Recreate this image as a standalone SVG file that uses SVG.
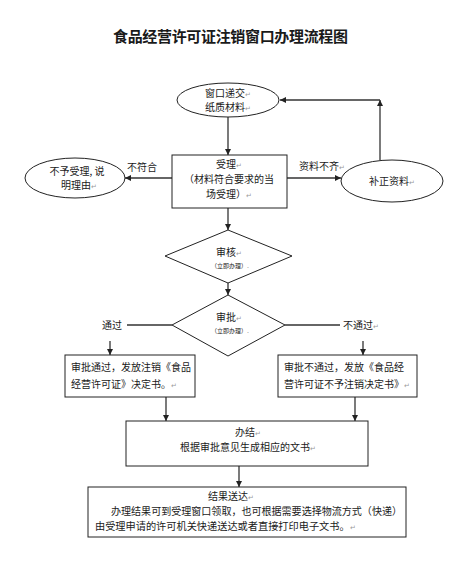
<svg xmlns="http://www.w3.org/2000/svg" width="474" height="571" viewBox="0 0 474 571">
<style>
text{font-family:"Noto Sans CJK SC","Noto Sans",sans-serif;fill:#1a1a1a;font-size:10px}
.t{font-size:15px;font-weight:bold}
.s{font-size:6px}
.m{fill:#9a9a9a;font-size:7px}
.shape{fill:#fff;stroke:#222;stroke-width:1}
.c{fill:none;stroke:#333;stroke-width:1.3}
.a{marker-end:url(#arr)}
.lt{font-size:10.2px}
</style>
<defs>
<marker id="arr" markerUnits="userSpaceOnUse" markerWidth="7" markerHeight="7" refX="6" refY="3" orient="auto">
<path d="M0,0 L6,3 L0,6 z" fill="#222"/>
</marker>
</defs>
<rect width="474" height="571" fill="#fff"/>
<text class="t" x="113" y="42" textLength="235" lengthAdjust="spacing">食品经营许可证注销窗口办理流程图</text>

<g id="connectors">
<path class="c a" d="M228,117 V155"/>
<path class="c a" d="M380,160 V100"/>
<path class="c a" d="M380,100 H280"/>
<path class="c a" d="M172,178 H125"/>
<path class="c a" d="M287,178 H341"/>
<path class="c a" d="M228,208 V230"/>
<path class="c a" d="M228,283 V295"/>
<path class="c" d="M172,325 H127"/>
<path class="c a" d="M110,341 V355"/>
<path class="c" d="M285,325 H340"/>
<path class="c a" d="M363,341 V355"/>
<path class="c a" d="M166,397 V421"/>
<path class="c a" d="M355,397 V421"/>
<path class="c a" d="M239,466 V487"/>
</g>

<g id="n_submit">
<ellipse class="shape" cx="228" cy="100" rx="51" ry="17"/>
<text x="228" y="97" text-anchor="middle">窗口递交<tspan class="m">↵</tspan></text>
<text x="228" y="111" text-anchor="middle">纸质材料<tspan class="m">↵</tspan></text>
</g>

<g id="n_accept">
<rect class="shape" x="172" y="155" width="115" height="53"/>
<text x="229" y="168" text-anchor="middle">受理<tspan class="m">↵</tspan></text>
<text x="229" y="183" text-anchor="middle">（材料符合要求的当</text>
<text x="229" y="198" text-anchor="middle">场受理）<tspan class="m">↵</tspan></text>
</g>

<g id="n_reject">
<ellipse class="shape" cx="75" cy="178" rx="50" ry="20"/>
<text x="77" y="175" text-anchor="middle">不予受理, 说</text>
<text x="79" y="189" text-anchor="middle">明理由<tspan class="m">↵</tspan></text>
</g>
<text x="127" y="171">不符合</text>

<g id="n_supplement">
<ellipse class="shape" cx="392" cy="181" rx="51" ry="21"/>
<text x="392" y="185" text-anchor="middle">补正资料<tspan class="m">↵</tspan></text>
</g>
<text x="299" y="170">资料不齐<tspan class="m">↵</tspan></text>

<g id="n_review">
<polygon class="shape" points="228,230 292,256 228,283 165,256"/>
<text x="229" y="256" text-anchor="middle">审核<tspan class="m">↵</tspan></text>
<text class="s" x="230" y="268" text-anchor="middle">（立即办理）<tspan class="m">.</tspan></text>
</g>

<g id="n_approve">
<polygon class="shape" points="228,295 285,325 228,356 172,325"/>
<text x="229" y="321" text-anchor="middle">审批<tspan class="m">↵</tspan></text>
<text class="s" x="230" y="333" text-anchor="middle">（立即办理）<tspan class="m">.</tspan></text>
</g>
<text x="102" y="329">通过</text>
<text x="343" y="329">不通过<tspan class="m">↵</tspan></text>

<g id="n_pass">
<rect class="shape" x="65" y="355" width="130" height="42"/>
<text x="71" y="371">审批通过，发放注销《食品</text>
<text x="71" y="388">经营许可证》决定书。<tspan class="m">↵</tspan></text>
</g>

<g id="n_fail">
<rect class="shape" x="278" y="355" width="139" height="42"/>
<text x="284" y="371">审批不通过，发放《食品经</text>
<text x="284" y="388">营许可证不予注销决定书》<tspan class="m">↵</tspan></text>
</g>

<g id="n_finish">
<rect class="shape" x="126" y="421" width="242" height="45"/>
<text x="248" y="436" text-anchor="middle">办结<tspan class="m">↵</tspan></text>
<text x="248" y="451" text-anchor="middle">根据审批意见生成相应的文书<tspan class="m">↵</tspan></text>
</g>

<g id="n_deliver">
<rect class="shape" x="88" y="487" width="318" height="50"/>
<text x="231" y="500" text-anchor="middle">结果送达<tspan class="m">↵</tspan></text>
<text class="lt" x="111" y="515" textLength="291" lengthAdjust="spacingAndGlyphs">办理结果可到受理窗口领取，也可根据需要选择物流方式（快递）</text>
<text class="lt" x="95" y="530">由受理申请的许可机关快递送达或者直接打印电子文书。<tspan class="m">↵</tspan></text>
</g>
</svg>
